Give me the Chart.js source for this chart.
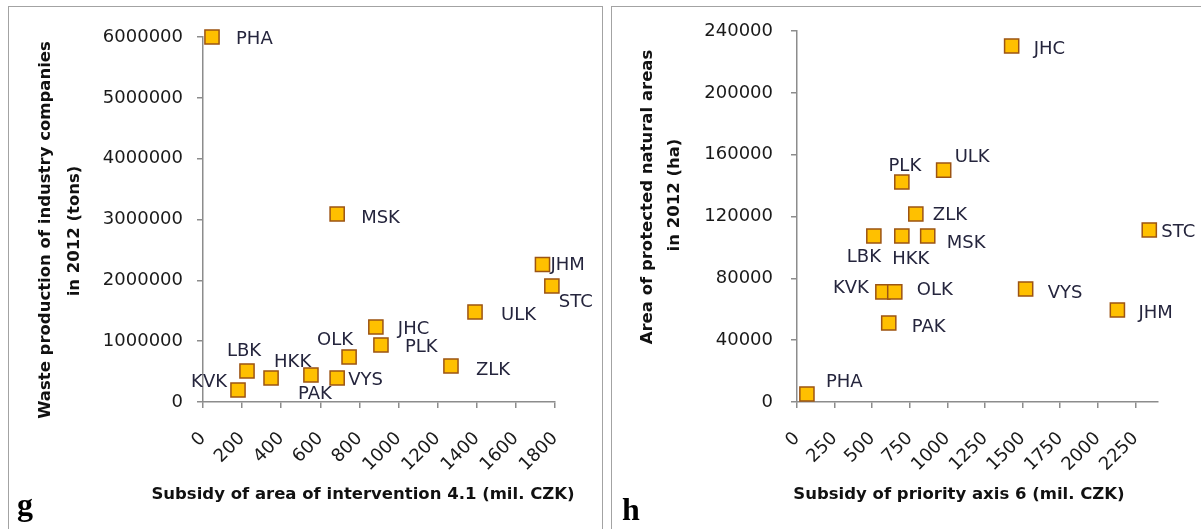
<!DOCTYPE html>
<html>
<head>
<meta charset="utf-8">
<script src="https://cdn.jsdelivr.net/npm/chart.js@4.4.0/dist/chart.umd.min.js"></script>
<style>
  html, body { margin: 0; padding: 0; background: #fff; }
  body { width: 1201px; height: 529px; position: relative; overflow: hidden; font-family: 'DejaVu Sans', sans-serif; }
  .panel { position: absolute; top: 6px; height: 560px; border: 1.5px solid #a3a3a3; box-sizing: border-box; }
  #panelG { left: 8px; width: 595px; }
  #panelH { left: 611px; width: 620px; }
  canvas { position: absolute; top: 0; }
  #chartG { left: 0; }
  #chartH { left: 604px; }
  .title { position: absolute; white-space: nowrap; font-weight: bold; font-size: 16.5px; color: #111; transform: translate(-50%, -50%); }
  .title.vert { transform: translate(-50%, -50%) rotate(-90deg); }
  .letter { position: absolute; font-family: 'Liberation Serif', serif; font-weight: bold; font-size: 32px; line-height: 32px; color: #000; }
</style>
</head>
<body>
<div class="panel" id="panelG"></div>
<div class="panel" id="panelH"></div>
<canvas id="chartG" width="604" height="529"></canvas>
<canvas id="chartH" width="597" height="529"></canvas>

<div class="title vert" style="left:44px; top:230px;">Waste production of industry companies</div>
<div class="title vert" style="left:73px; top:231px;">in 2012 (tons)</div>
<div class="title" style="left:363px; top:493px;">Subsidy of area of intervention 4.1 (mil. CZK)</div>
<div class="letter" style="left:17px; top:488px;">g</div>

<div class="title vert" style="left:646px; top:197px;">Area of protected natural areas</div>
<div class="title vert" style="left:673px; top:195px;">in 2012 (ha)</div>
<div class="title" style="left:959px; top:493px;">Subsidy of priority axis 6 (mil. CZK)</div>
<div class="letter" style="left:622px; top:493px;">h</div>

<script>
'use strict';

// Regions (same order in both panels)
const regions = ['PHA', 'STC', 'JHC', 'PLK', 'KVK', 'ULK', 'LBK', 'HKK', 'PAK', 'VYS', 'JHM', 'OLK', 'ZLK', 'MSK'];

// Panel g: subsidy of area of intervention 4.1 vs. waste production
const subsidy41 = [46, 1784, 884, 910, 179, 1391, 225, 348, 552, 686, 1736, 747, 1268, 686];
const wasteTons = [6000000, 1907000, 1233000, 937000, 197000, 1480000, 510000, 395000, 444000, 395000, 2260000, 740000, 592000, 3090000];

// Panel h: subsidy of priority axis 6 vs. protected natural areas
const subsidy6 = [66, 2342, 1427, 697, 571, 975, 511, 697, 610, 1520, 2130, 650, 790, 869];
const protectedHa = [5200, 111300, 230300, 142300, 71200, 150000, 107400, 107400, 51100, 73100, 59500, 71200, 121600, 107400];

// Label placement next to each square: [dx, dy, textAlign]
const placementG = {
  PHA: [24, 2, 'left'], MSK: [24, 4, 'left'], JHM: [8, 1, 'left'], STC: [7, 16, 'left'],
  ULK: [26, 3, 'left'], JHC: [22, 2, 'left'], PLK: [24, 2, 'left'], OLK: [-14, -17, 'center'],
  ZLK: [25, 4, 'left'], VYS: [11, 2, 'left'], PAK: [4, 19, 'center'], HKK: [3, -16, 'left'],
  LBK: [-3, -20, 'center'], KVK: [-11, -8, 'right']
};
const placementH = {
  PHA: [19, -12, 'left'], JHC: [22, 3, 'left'], ULK: [11, -13, 'left'], PLK: [3, -16, 'center'],
  ZLK: [17, 1, 'left'], LBK: [-10, 21, 'center'], HKK: [9, 23, 'center'], MSK: [19, 7, 'left'],
  KVK: [-14, -4, 'right'], OLK: [22, -2, 'left'], PAK: [23, 4, 'left'], STC: [12, 2, 'left'],
  VYS: [22, 4, 'left'], JHM: [21, 3, 'left']
};

const axisColor = '#8c8c8c';
const textColor = '#1a1a1a';
const fontFamily = "'DejaVu Sans', sans-serif";

// Draws the region code next to each point
const pointLabels = {
  id: 'pointLabels',
  afterDatasetsDraw(chart, args, opts) {
    const ctx = chart.ctx;
    const meta = chart.getDatasetMeta(0);
    ctx.save();
    ctx.font = '18px ' + fontFamily;
    ctx.fillStyle = '#25253d';
    ctx.textBaseline = 'middle';
    meta.data.forEach((pt, i) => {
      const name = regions[i];
      const [dx, dy, align] = opts.placement[name];
      ctx.textAlign = align;
      ctx.fillText(name, pt.x + dx, pt.y + dy);
    });
    ctx.restore();
  }
};

function renderScatter(canvasID, xs, ys, cfg) {
  const points = xs.map((x, i) => ({ x: x, y: ys[i] }));
  const ctx = document.getElementById(canvasID).getContext('2d');
  return new Chart(ctx, {
    type: 'scatter',
    data: {
      datasets: [{
        data: points,
        pointStyle: 'rect',
        pointRadius: 10,
        pointHoverRadius: 10,
        backgroundColor: '#ffc000',
        borderColor: '#9c5414',
        borderWidth: 1.5,
        clip: false
      }]
    },
    options: {
      responsive: false,
      animation: false,
      events: [],
      layout: { padding: { top: cfg.top, right: cfg.right, bottom: 0, left: 0 } },
      plugins: {
        legend: { display: false },
        tooltip: { enabled: false },
        pointLabels: { placement: cfg.placement }
      },
      scales: {
        x: {
          type: 'linear',
          min: 0,
          max: cfg.xMax,
          bounds: 'data',
          afterFit: s => { s.height = 127; },
          // only keep the regular steps (no extra tick at the axis end)
          afterBuildTicks: s => { s.ticks = s.ticks.filter(t => t.value % cfg.xStep === 0); },
          grid: { display: true, drawOnChartArea: false, drawTicks: true, tickLength: 6, color: axisColor, lineWidth: 1.5 },
          border: { display: true, color: axisColor, width: 1.5 },
          ticks: {
            stepSize: cfg.xStep,
            autoSkip: false,
            minRotation: 45,
            maxRotation: 45,
            padding: 20,
            color: textColor,
            font: { family: fontFamily, size: 18 },
            callback: v => String(v)
          }
        },
        y: {
          type: 'linear',
          min: 0,
          max: cfg.yMax,
          afterFit: s => { s.width = cfg.yWidth; },
          grid: { display: true, drawOnChartArea: false, drawTicks: true, tickLength: 6, color: axisColor, lineWidth: 1.5 },
          border: { display: true, color: axisColor, width: 1.5 },
          ticks: {
            stepSize: cfg.yStep,
            padding: cfg.yPad,
            color: textColor,
            font: { family: fontFamily, size: 18 },
            callback: v => String(v)
          }
        }
      }
    },
    plugins: [pointLabels]
  });
}

renderScatter('chartG', subsidy41, wasteTons, {
  xMax: 1800, xStep: 200, yMax: 6000000, yStep: 1000000,
  yWidth: 203, yPad: 14, top: 37, right: 49, placement: placementG
});

renderScatter('chartH', subsidy6, protectedHa, {
  xMax: 2400, xStep: 250, yMax: 240000, yStep: 40000,
  yWidth: 193, yPad: 18, top: 31, right: 43, placement: placementH
});
</script>
</body>
</html>
